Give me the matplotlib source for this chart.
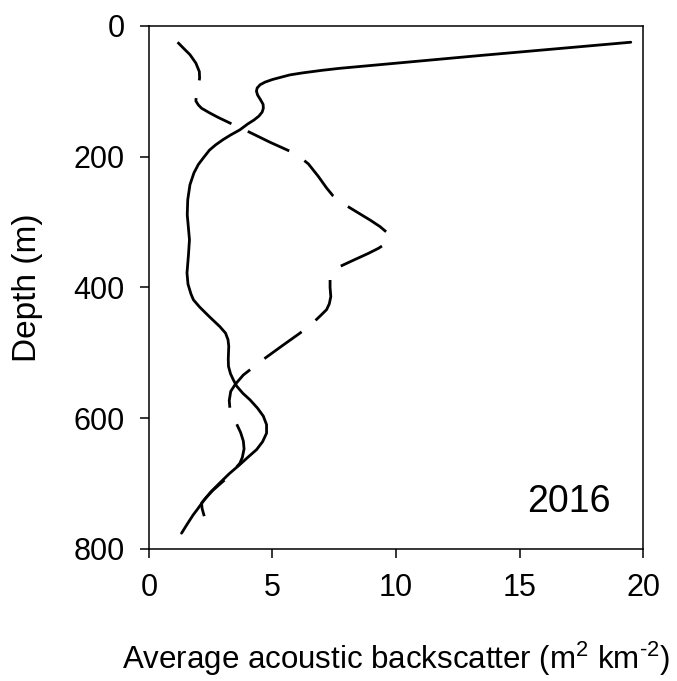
import matplotlib
matplotlib.use("Agg")
import matplotlib.pyplot as plt

plt.rcParams['font.family'] = ['Liberation Sans', 'DejaVu Sans']
plt.rcParams['mathtext.fontset'] = 'custom'
plt.rcParams['mathtext.rm'] = 'Liberation Sans'
plt.rcParams['mathtext.it'] = 'Liberation Sans'

# solid profile (depth in m, backscatter)
solid_depth = [25, 45, 65, 68, 72, 75, 78, 82, 86, 90, 95, 100, 106, 112, 120, 126,
               132, 138, 144, 150, 159, 167, 174, 182, 190, 202, 212, 225, 243, 266,
               289, 310, 327, 350, 378, 395, 410, 419, 430, 445, 460, 470, 480, 490,
               500, 510, 521, 532, 541, 551, 562, 572, 585, 597, 610, 623, 636, 648,
               660, 671, 685, 699, 713, 727, 740, 748, 762, 776]
solid_val = [19.5, 13.5, 7.7, 7.0, 6.2, 5.7, 5.4, 5.0, 4.7, 4.5, 4.38, 4.35, 4.4, 4.5,
             4.62, 4.63, 4.58, 4.45, 4.25, 4.0, 3.68, 3.3, 3.0, 2.7, 2.45, 2.2, 2.0,
             1.82, 1.66, 1.57, 1.55, 1.6, 1.64, 1.6, 1.54, 1.58, 1.7, 1.8, 2.05, 2.45,
             2.87, 3.1, 3.2, 3.23, 3.22, 3.21, 3.22, 3.3, 3.41, 3.55, 3.8, 4.09, 4.4,
             4.63, 4.76, 4.76, 4.6, 4.36, 4.0, 3.68, 3.25, 2.87, 2.5, 2.2, 1.95, 1.79,
             1.55, 1.32]

# dashed profile
dash_depth = [25, 35, 44, 57, 70, 80, 89, 100, 115, 121, 126, 133, 140, 151, 163, 178,
              193, 202, 211, 230, 248, 260, 269, 286, 297, 307, 315, 322, 328, 332,
              340, 348, 358, 368, 378, 388, 400, 414, 425, 434, 443, 452, 470, 488,
              511, 534, 548, 559, 573, 587, 605, 622, 635, 647, 660, 669, 690, 710,
              722, 730, 738, 745, 760, 776]
dash_val = [1.16, 1.42, 1.66, 1.9, 2.04, 2.05, 2.01, 1.93, 1.9, 2.0, 2.13, 2.45, 2.8,
            3.41, 4.09, 4.9, 5.78, 6.15, 6.45, 6.85, 7.19, 7.45, 7.73, 8.47, 8.95, 9.35,
            9.6, 9.69, 9.7, 9.62, 9.3, 8.88, 8.3, 7.73, 7.45, 7.33, 7.33, 7.36, 7.3,
            7.19, 6.95, 6.7, 6.11, 5.44, 4.6, 3.82, 3.5, 3.31, 3.25, 3.28, 3.5, 3.71,
            3.82, 3.85, 3.78, 3.68, 3.2, 2.6, 2.3, 2.13, 2.15, 2.2, 2.32, 2.47]

x_ticks = [0, 5, 10, 15, 20]
y_ticks = [0, 200, 400, 600, 800]

fig = plt.figure(figsize=(6.77, 6.81), dpi=100)
ax = fig.add_axes([0.220, 0.194, 0.730, 0.768])

ax.plot(solid_val, solid_depth, color='black', lw=2.0,
        solid_joinstyle='round', solid_capstyle='round')
line, = ax.plot(dash_val, dash_depth, color='black', lw=2.0,
                dash_joinstyle='round', dash_capstyle='butt')
line.set_dashes((16.5, 6.5))

ax.set_xlim(0, 20)
ax.set_ylim(800, 0)
ax.set_xticks(x_ticks)
ax.set_yticks(y_ticks)

for sp in ax.spines.values():
    sp.set_linewidth(1.1)

ax.tick_params(direction='out', length=6.5, width=1.1, labelsize=22, pad=11)

ax.set_xlabel(r'Average acoustic backscatter (m$^{2}$ km$^{\text{-}2}$)',
              fontsize=22.5, labelpad=26)
ax.set_ylabel('Depth (m)', fontsize=24, labelpad=22)

ax.text(17.0, 728, '2016', fontsize=27, ha='center', va='center')

plt.savefig('out.png', dpi=100)
